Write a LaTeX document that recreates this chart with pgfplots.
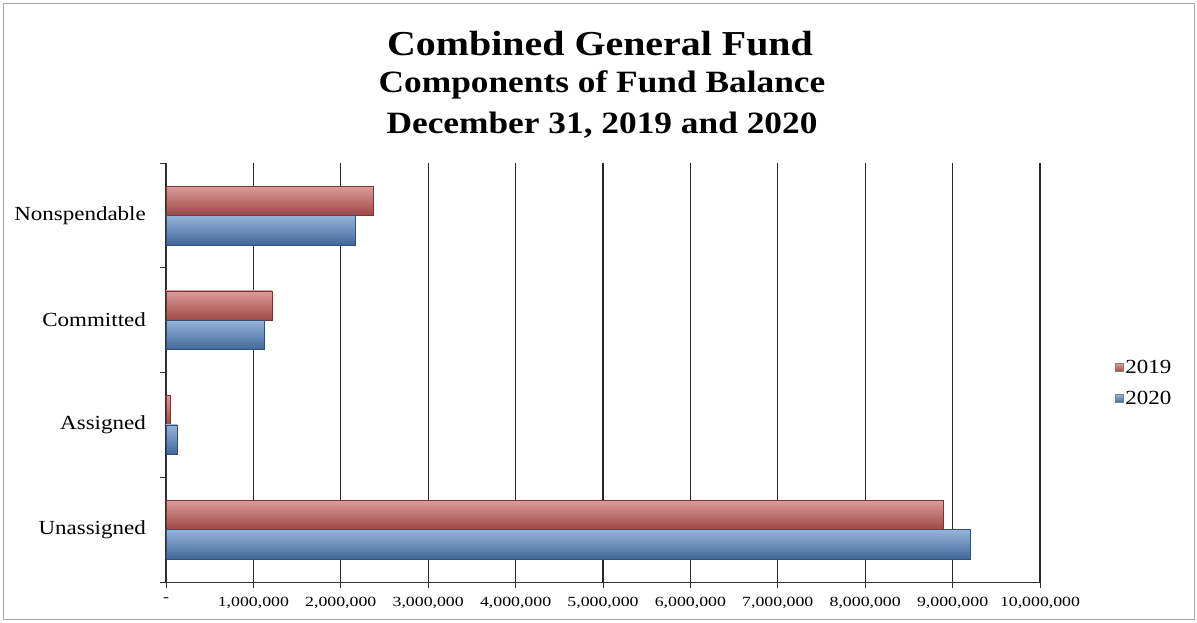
\documentclass[border=0pt]{standalone}
\usepackage{fontspec}
\setmainfont{Liberation Serif}
\usepackage{pgfplots}
\pgfplotsset{compat=1.18}

\definecolor{red19}{HTML}{C55A57}
\definecolor{blue20}{HTML}{5283C2}

\pgfplotsset{
  bar19/.style={bar shift=0.14, draw=red19!60!black, top color=red19!60!white, middle color=red19, bottom color=red19!80!black},
  bar20/.style={bar shift=-0.14, draw=blue20!60!black, top color=blue20!60!white, middle color=blue20, bottom color=blue20!80!black},
}

\begin{document}
\begin{tikzpicture}[x=1pt,y=1pt]
  % outer frame
  \draw[gray!70, line width=0.8pt] (3,3) rectangle (1194,619);
  \path (0,0) rectangle (1197,622);

  \node[font=\bfseries\fontsize{35}{38}\selectfont, xscale=1.14] at (600,578) {Combined General Fund};
  \node[font=\bfseries\fontsize{31}{34}\selectfont, xscale=1.14] at (602,537) {Components of Fund Balance};
  \node[font=\bfseries\fontsize{31}{34}\selectfont, xscale=1.14] at (602,497) {December 31, 2019 and 2020};

  \begin{axis}[
      at={(166pt,40pt)}, anchor=south west,
      scale only axis,
      width=874pt, height=419pt,
      xbar, bar width=0.28,
      xmin=0, xmax=10000000,
      ymin=-0.5, ymax=3.5,
      axis x line*=bottom, axis y line*=left,
      axis line style={-, black!80, line width=0.8pt},
      xtick={0,1000000,2000000,3000000,4000000,5000000,6000000,7000000,8000000,9000000,10000000},
      xticklabels={-, {1,000,000}, {2,000,000}, {3,000,000}, {4,000,000}, {5,000,000}, {6,000,000}, {7,000,000}, {8,000,000}, {9,000,000}, {10,000,000}},
      scaled x ticks=false,
      xmajorgrids=true,
      grid style={black!85, line width=1.3pt},
      ytick={-0.5,0.5,1.5,2.5,3.5},
      yticklabels={},
      extra y ticks={0,1,2,3},
      extra y tick labels={Unassigned, Assigned, Committed, Nonspendable},
      extra y tick style={major tick length=0pt},
      major tick length=6pt,
      tick align=outside,
      tick style={black!80, line width=0.8pt},
      x tick label style={font=\fontsize{14}{16}\selectfont, xscale=1.27, yshift=-6pt},
      y tick label style={font=\fontsize{20}{22}\selectfont, xscale=1.15, xshift=-14pt},
      legend style={at={(1.082,0.475)}, anchor=west, draw=none, fill=none,
        font=\fontsize{20}{22}\selectfont, row sep=12pt},
      legend image code/.code={\draw[#1, draw=gray] (0pt,-4pt) rectangle (8pt,4pt);},
      legend cell align=left,
    ]
    \addplot[bar19] coordinates {(8890000,0)};
    \addplot[bar20] coordinates {(9200000,0)};
    \addplot[bar19, forget plot] coordinates {(50000,1)};
    \addplot[bar20, forget plot] coordinates {(130000,1)};
    \addplot[bar19, forget plot] coordinates {(1210000,2)};
    \addplot[bar20, forget plot] coordinates {(1120000,2)};
    \addplot[bar19, forget plot] coordinates {(2370000,3)};
    \addplot[bar20, forget plot] coordinates {(2170000,3)};
    \legend{\scalebox{1.15}[1]{2019}, \scalebox{1.15}[1]{2020}}
  \end{axis}
\end{tikzpicture}
\end{document}
